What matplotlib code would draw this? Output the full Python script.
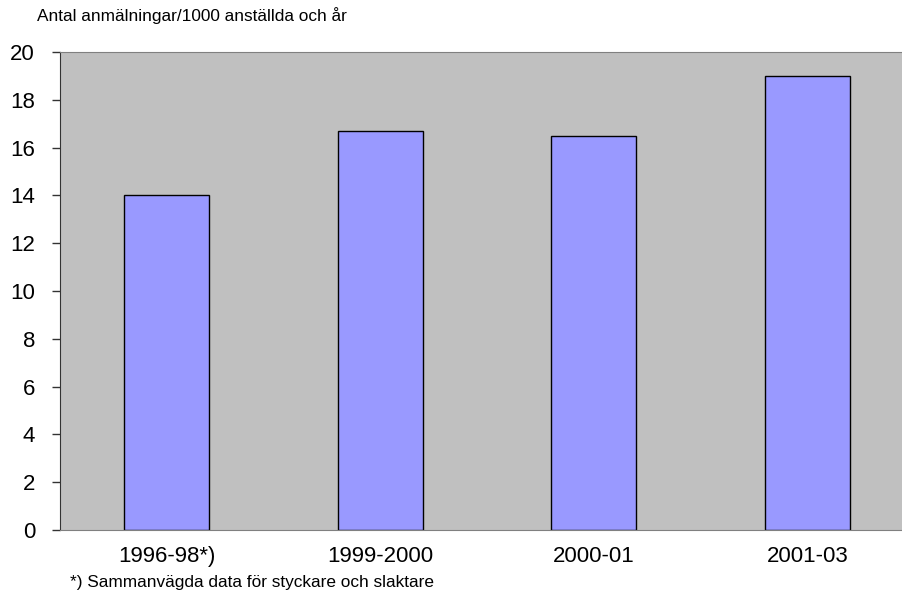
import matplotlib.pyplot as plt
import numpy as np

plt.rcParams['font.family'] = ['Liberation Sans', 'DejaVu Sans']

periods = ['1996-98*)', '1999-2000', '2000-01', '2001-03']
rates = [14.0, 16.7, 16.5, 19.0]
y_ticks = [0, 2, 4, 6, 8, 10, 12, 14, 16, 18, 20]

fig = plt.figure(figsize=(9.03, 5.91), dpi=100)
# plot area runs past the right edge of the picture, as in the original
ax = fig.add_axes([60 / 903, 61 / 591, 854 / 903, 478 / 591])
ax.set_facecolor('#c0c0c0')

x = np.arange(len(periods))
ax.bar(x, rates, width=0.4, color='#9999ff', edgecolor='black', linewidth=1.0)

ax.set_xlim(-0.5, len(periods) - 0.5)
ax.set_ylim(0, 20)
ax.set_yticks(y_ticks)
ax.set_xticks(x)
ax.set_xticklabels(periods)

ax.tick_params(axis='y', length=6, width=1, color='#333333', pad=12, labelsize=16)
ax.tick_params(axis='x', length=0, pad=11.5, labelsize=16)

ax.spines['left'].set_color('#333333')
for side in ['top', 'bottom', 'right']:
    ax.spines[side].set_color('#808080')

fig.text(37 / 903, 1 - 16 / 591, 'Antal anmälningar/1000 anställda och år',
         fontsize=12.4, va='center', ha='left')
fig.text(70 / 903, 1 - 582 / 591, '*) Sammanvägda data för styckare och slaktare',
         fontsize=12.4, va='center', ha='left')

fig.savefig('out.png', dpi=100)
